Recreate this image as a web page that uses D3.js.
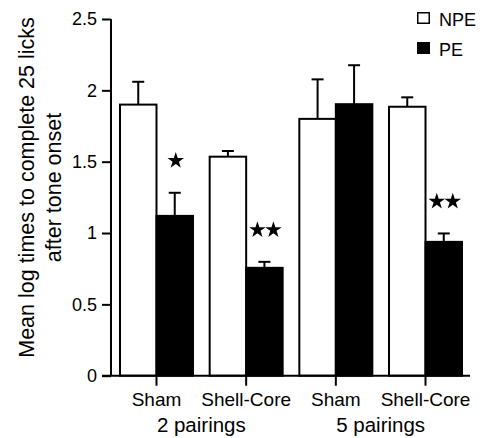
<!DOCTYPE html>
<html>
<head>
<meta charset="utf-8">
<script src="https://cdn.jsdelivr.net/npm/d3@7"></script>
<style>
  body { margin: 0; background: #fff; }
  text { font-family: "Liberation Sans", Arial, Helvetica, sans-serif; fill: #000; }
</style>
</head>
<body>
<div id="chart"></div>
<script>
// Values
var groups     = ["2 pairings", "5 pairings"];
var conditions = ["Sham", "Shell-Core", "Sham", "Shell-Core"];
var series     = ["NPE", "PE"];
var npeMean = [1.90, 1.535, 1.80, 1.885];
var npeSem  = [0.16, 0.04, 0.277, 0.066];
var peMean  = [1.12, 0.756, 1.903, 0.938];
var peSem   = [0.162, 0.042, 0.273, 0.059];
var peSig   = ["*", "**", "", "**"];
var yTicks  = [0, 0.5, 1, 1.5, 2, 2.5];

var svg_dx = 484, svg_dy = 438;
var axisX = 111, tickLen = 9;

var svg = d3.select("#chart").append("svg")
    .attr("width", svg_dx)
    .attr("height", svg_dy);

// scales
var yScale = d3.scaleLinear().domain([0, 2.5]).range([375.7, 19]);

var keys = conditions.map(function(d, i) { return i; });
var x0 = d3.scaleBand().domain(keys).range([120, 462]).paddingInner(0.186).paddingOuter(0);
var x1 = d3.scaleBand().domain(series).range([0, x0.bandwidth()]);

var rows = [];
keys.forEach(function(i) {
  rows.push({k: i, s: "NPE", m: npeMean[i], e: npeSem[i], sig: ""});
  rows.push({k: i, s: "PE",  m: peMean[i],  e: peSem[i],  sig: peSig[i]});
});

// y axis
var yAxis = d3.axisLeft(yScale)
    .tickValues(yTicks)
    .tickFormat(function(d) { return String(d); })
    .tickSize(tickLen)
    .tickPadding(5);
var yG = svg.append("g")
    .attr("transform", "translate(" + axisX + ",0)")
    .call(yAxis);
yG.select(".domain").attr("d", "M0," + yScale(0) + "V" + yScale(2.5))
    .attr("stroke-width", 2);
yG.selectAll(".tick line").attr("stroke-width", 2);
yG.selectAll(".tick text").style("font-size", "18px").attr("font-family", null);

// bars
svg.selectAll(".bar").data(rows).enter()
  .append("rect")
  .attr("class", "bar")
  .attr("x", function(d) { return x0(d.k) + x1(d.s); })
  .attr("width", x1.bandwidth())
  .attr("y", function(d) { return yScale(d.m); })
  .attr("height", function(d) { return yScale(0) - yScale(d.m); })
  .style("fill", function(d) { return d.s === "PE" ? "#000" : "#fff"; })
  .style("stroke", "#000")
  .style("stroke-width", 2);

// error bars (upper only)
var capW = 12;
var err = svg.selectAll(".err").data(rows).enter().append("g").attr("class", "err");
err.append("line")
  .attr("x1", function(d) { return x0(d.k) + x1(d.s) + x1.bandwidth() / 2; })
  .attr("x2", function(d) { return x0(d.k) + x1(d.s) + x1.bandwidth() / 2; })
  .attr("y1", function(d) { return yScale(d.m); })
  .attr("y2", function(d) { return yScale(d.m + d.e); })
  .style("stroke", "#000").style("stroke-width", 2);
err.append("line")
  .attr("x1", function(d) { return x0(d.k) + x1(d.s) + x1.bandwidth() / 2 - capW / 2; })
  .attr("x2", function(d) { return x0(d.k) + x1(d.s) + x1.bandwidth() / 2 + capW / 2; })
  .attr("y1", function(d) { return yScale(d.m + d.e); })
  .attr("y2", function(d) { return yScale(d.m + d.e); })
  .style("stroke", "#000").style("stroke-width", 2);

// significance stars
var star = d3.symbol().type(d3.symbolStar).size(85);
rows.filter(function(d) { return d.sig; }).forEach(function(d) {
  var cx = x0(d.k) + x1(d.s) + x1.bandwidth() / 2 + 1;
  var cy = yScale(d.m + d.e) - 32;
  var n = d.sig.length;
  for (var j = 0; j < n; j++) {
    svg.append("path")
      .attr("d", star)
      .attr("transform", "translate(" + (cx + (j - (n - 1) / 2) * 16) + "," + cy + ")")
      .style("fill", "#000");
  }
});

// x axis
var xAxis = d3.axisBottom(x0)
    .tickFormat(function(i) { return conditions[i]; })
    .tickSize(10)
    .tickPadding(7)
    .tickSizeOuter(0);
var xG = svg.append("g")
    .attr("transform", "translate(0," + yScale(0) + ")")
    .call(xAxis);
xG.select(".domain").attr("d", "M" + (axisX - tickLen) + ",0H470").attr("stroke-width", 2);
xG.selectAll(".tick line").attr("stroke-width", 2);
xG.selectAll(".tick text").style("font-size", "19px").attr("font-family", null);

// group labels
svg.selectAll(".grp").data(groups).enter()
  .append("text")
  .attr("class", "grp")
  .attr("x", function(d, g) {
    return (x0(g * 2) + x0(g * 2 + 1) + x0.bandwidth()) / 2;
  })
  .attr("y", 432)
  .attr("text-anchor", "middle")
  .style("font-size", "20.5px")
  .text(function(d) { return d; });

// y-axis label
var yl = svg.append("text")
  .attr("transform", "translate(34,187.5) rotate(-90)")
  .attr("text-anchor", "middle")
  .style("font-size", "21.5px");
yl.append("tspan").attr("x", 0).attr("y", 0).text("Mean log times to complete 25 licks");
yl.append("tspan").attr("x", 0).attr("y", 27).text("after tone onset");

// legend
var leg = svg.selectAll(".leg").data(series).enter()
  .append("g").attr("class", "leg")
  .attr("transform", function(d, i) { return "translate(417," + (12 + i * 30) + ")"; });
leg.append("rect")
  .attr("x", 0.75).attr("y", 0.75)
  .attr("width", 11.5).attr("height", 10.5)
  .style("fill", function(d) { return d === "PE" ? "#000" : "#fff"; })
  .style("stroke", "#000").style("stroke-width", 1.5);
leg.append("text")
  .attr("x", 22).attr("y", 14)
  .style("font-size", "18px")
  .text(function(d) { return d; });
</script>
</body>
</html>
